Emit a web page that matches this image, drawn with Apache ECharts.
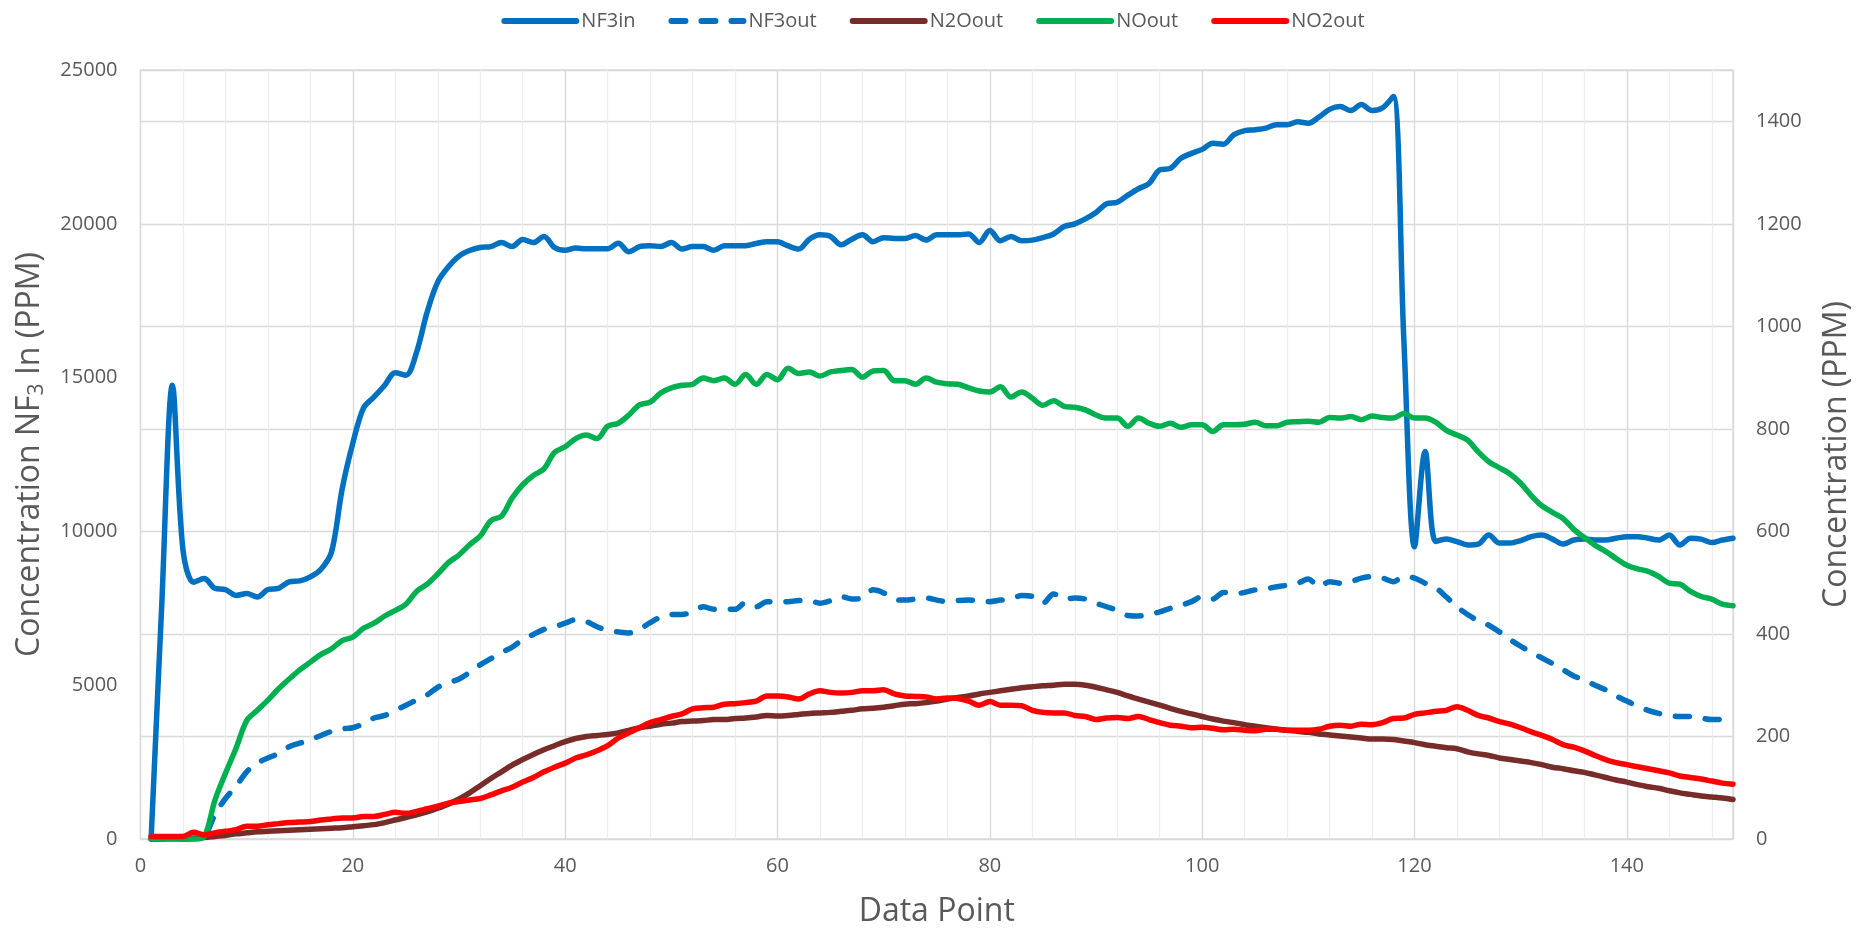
<!DOCTYPE html>
<html>
<head>
<meta charset="utf-8">
<script src="https://cdn.jsdelivr.net/npm/echarts@6/dist/echarts.min.js"></script>
<style>
  html, body { margin: 0; padding: 0; background: #ffffff; }
  #chart { width: 1866px; height: 936px; }
</style>
</head>
<body>
<div id="chart"></div>
<script>
// Data point index 1..150
const dataPoints = [];
for (let i = 1; i <= 150; i++) dataPoints.push(i);

// NF3 inlet concentration (PPM, left axis)
const nf3In = [
  0, 7600, 14750, 9400, 8350, 8470, 8150, 8110, 7920, 7980,
  7870, 8110, 8150, 8360, 8390, 8520, 8770, 9340, 11390, 12870,
  14010, 14370, 14750, 15160, 15080, 15820, 17130, 18110, 18600, 18950,
  19130, 19230, 19260, 19390, 19260, 19490, 19390, 19590, 19230, 19140,
  19210, 19190, 19190, 19190, 19370, 19090, 19260, 19290, 19260, 19390,
  19180, 19260, 19260, 19140, 19290, 19290, 19290, 19360, 19420, 19420,
  19280, 19180, 19500, 19640, 19590, 19320, 19500, 19640, 19420, 19550,
  19520, 19520, 19620, 19470, 19640, 19640, 19640, 19670, 19390, 19780,
  19450, 19590, 19450, 19470, 19550, 19670, 19910, 20000, 20160, 20370,
  20650, 20700, 20930, 21140, 21310, 21750, 21800, 22130, 22290, 22420,
  22620, 22590, 22900, 23030, 23060, 23110, 23220, 23220, 23320, 23270,
  23470, 23720, 23810, 23680, 23880, 23680, 23770, 24140, 16200, 9500,
  12600, 9670, 9750, 9670, 9560, 9590, 9880, 9620, 9620, 9700,
  9830, 9880, 9750, 9590, 9720, 9750, 9720, 9720, 9780, 9830,
  9830, 9780, 9720, 9880, 9560, 9780, 9750, 9640, 9720, 9780
];

// NF3 outlet concentration (PPM, right axis)
const nf3Out = [
  0, 0, 0, 0, 0, 5, 47, 79, 103, 131,
  148, 158, 167, 180, 187, 194, 202, 210, 215, 217,
  225, 236, 241, 251, 261, 271, 281, 296, 305, 312,
  325, 340, 352, 364, 374, 389, 399, 409, 414, 421,
  428, 424, 414, 407, 404, 402, 409, 422, 433, 438,
  438, 443, 453, 448, 448, 448, 461, 453, 463, 463,
  463, 465, 465, 460, 465, 473, 468, 470, 486, 480,
  468, 466, 468, 470, 466, 463, 465, 466, 465, 463,
  466, 468, 475, 473, 460, 478, 468, 470, 468, 460,
  453, 446, 436, 435, 438, 443, 450, 456, 463, 473,
  468, 481, 478, 481, 486, 488, 492, 495, 499, 507,
  492, 502, 499, 502, 509, 512, 509, 502, 512, 509,
  499, 490, 472, 453, 438, 426, 417, 404, 389, 376,
  364, 353, 342, 330, 318, 310, 300, 291, 279, 269,
  259, 251, 245, 241, 239, 239, 236, 233, 233, 231
];

// N2O outlet concentration (PPM, right axis)
const n2oOut = [
  0, 0, 0, 0, 2, 3, 5, 7, 10, 12,
  14, 15, 16, 17, 18, 19, 20, 21, 22, 24,
  26, 28, 32, 37, 42, 47, 53, 60, 68, 78,
  90, 104, 118, 131, 144, 155, 165, 174, 182, 190,
  196, 200, 202, 204, 207, 212, 217, 220, 224, 226,
  229, 230, 231, 233, 233, 235, 236, 238, 241, 240,
  241, 243, 245, 246, 247, 249, 251, 254, 255, 257,
  260, 263, 264, 266, 269, 273, 276, 279, 283, 286,
  289, 292, 295, 297, 299, 300, 302, 302, 300, 296,
  291, 286, 279, 273, 267, 261, 255, 249, 244, 239,
  234, 230, 227, 223, 220, 217, 214, 212, 210, 208,
  205, 203, 201, 199, 197, 195, 195, 194, 191, 188,
  184, 181, 178, 176, 170, 166, 163, 158, 155, 152,
  149, 145, 140, 137, 133, 130, 125, 120, 115, 111,
  106, 102, 99, 94, 90, 87, 84, 82, 80, 77
];

// NO outlet concentration (PPM, right axis)
const noOut = [
  0, 0, 0, 0, 0, 5, 75, 128, 177, 231,
  251, 271, 293, 312, 330, 345, 360, 371, 387, 394,
  411, 421, 435, 446, 458, 483, 497, 517, 539, 554,
  574, 591, 621, 630, 665, 691, 709, 722, 754, 765,
  781, 788, 781, 805, 811, 827, 847, 852, 870, 880,
  885, 887, 899, 894, 899, 887, 906, 887, 906, 896,
  918, 908, 911, 903, 911, 914, 916, 901, 913, 914,
  894, 894, 887, 899, 891, 888, 887, 880, 874, 872,
  882, 862, 872, 860, 846, 855, 844, 842, 837, 827,
  821, 821, 805, 821, 811, 805, 811, 803, 808, 808,
  795, 808, 808, 809, 813, 806, 806, 813, 814, 815,
  813, 822, 821, 824, 818, 825, 822, 821, 830, 821,
  821, 813, 797, 788, 778, 755, 736, 724, 712, 694,
  670, 650, 637, 625, 604, 588, 573, 561, 547, 534,
  527, 522, 512, 499, 497, 483, 473, 468, 458, 455
];

// NO2 outlet concentration (PPM, right axis)
const no2Out = [
  5, 5, 5, 5, 13, 8, 12, 15, 18, 25,
  25, 28, 30, 32, 33, 34, 37, 39, 41, 41,
  44, 44, 48, 52, 50, 54, 59, 64, 70, 73,
  76, 79, 86, 94, 101, 111, 120, 131, 140, 148,
  158, 164, 172, 182, 197, 207, 217, 227, 233, 239,
  244, 254, 256, 257, 263, 264, 266, 269, 279, 279,
  277, 273, 283, 289, 286, 285, 286, 289, 289, 291,
  283, 279, 278, 277, 273, 275, 274, 269, 261, 268,
  261, 261, 260, 251, 247, 246, 246, 241, 239, 233,
  236, 237, 235, 239, 233, 227, 222, 220, 217, 218,
  216, 213, 214, 212, 211, 214, 214, 212, 212, 212,
  214, 220, 222, 220, 224, 223, 227, 235, 236, 243,
  246, 249, 251, 258, 251, 241, 236, 229, 224, 217,
  209, 202, 194, 184, 179, 172, 163, 155, 149, 145,
  141, 137, 133, 129, 123, 120, 117, 113, 109, 107
];

const FONT = '"Open Sans", "Liberation Sans", sans-serif';
const TEXT = '#595959';
const GRID_MAJOR = '#D9D9D9';
const GRID_MINOR = '#EDEDED';

function pairs(values) {
  return values.map((v, i) => [dataPoints[i], v]);
}

function lineSeries(name, values, color, yAxisIndex, dashed) {
  return {
    name: name,
    type: 'line',
    xAxisIndex: 0,
    yAxisIndex: yAxisIndex,
    data: pairs(values),
    smooth: 0.33,
    symbol: 'circle',
    showSymbol: false,
    silent: true,
    lineStyle: {
      color: color,
      width: 5.5,
      type: dashed ? [14, 16] : 'solid',
      cap: 'round',
      join: 'round'
    },
    itemStyle: { color: color },
    emphasis: { disabled: true }
  };
}

const chart = echarts.init(document.getElementById('chart'), null, { renderer: 'canvas' });

chart.setOption({
  animation: false,
  backgroundColor: '#ffffff',
  textStyle: { fontFamily: FONT },
  legend: {
    top: 6,
    left: 'center',
    itemWidth: 72,
    itemHeight: 24,
    itemGap: 33,
    itemStyle: { opacity: 0 },
    lineStyle: { width: 6, cap: 'round' },
    textStyle: { fontSize: 20, color: TEXT, fontFamily: FONT },
    data: ['NF3in', 'NF3out', 'N2Oout', 'NOout', 'NO2out']
  },
  grid: {
    left: 140.5,
    right: 133,
    top: 70,
    bottom: 97,
    show: true,
    borderColor: GRID_MAJOR,
    borderWidth: 1.3
  },
  xAxis: [
    {
      type: 'value',
      min: 0,
      max: 150,
      interval: 20,
      z: 2,
      axisLine: { show: false },
      axisTick: { show: false },
      axisLabel: {
        showMaxLabel: false,
        color: TEXT,
        fontSize: 20,
        fontFamily: FONT,
        margin: 17,
        formatter: v => String(v)
      },
      splitLine: { show: true, lineStyle: { color: GRID_MAJOR, width: 1.3 } },
      name: 'Data Point',
      nameLocation: 'middle',
      nameGap: 57,
      nameTextStyle: { fontSize: 32, color: TEXT, fontFamily: FONT }
    },
    {
      type: 'value',
      min: 0,
      max: 150,
      interval: 4,
      z: 1,
      position: 'bottom',
      axisLine: { show: false },
      axisTick: { show: false },
      axisLabel: { show: false },
      splitLine: { show: true, lineStyle: { color: GRID_MINOR, width: 1.3 } }
    }
  ],
  yAxis: [
    {
      type: 'value',
      position: 'left',
      min: 0,
      max: 25000,
      interval: 5000,
      axisLine: { show: false },
      axisTick: { show: false },
      splitLine: { show: false },
      axisLabel: {
        color: TEXT,
        fontSize: 20,
        fontFamily: FONT,
        margin: 23,
        formatter: v => String(v)
      },
      name: 'Concentration NF{sub|3} In (PPM)',
      nameLocation: 'middle',
      nameRotate: 90,
      nameGap: 93,
      nameTextStyle: {
        fontSize: 32,
        color: TEXT,
        fontFamily: FONT,
        rich: {
          sub: { fontSize: 21, color: TEXT, fontFamily: FONT, padding: [14, 0, 0, 0] }
        }
      }
    },
    {
      type: 'value',
      position: 'right',
      min: 0,
      max: 1500,
      interval: 200,
      axisLine: { show: false },
      axisTick: { show: false },
      splitLine: { show: true, lineStyle: { color: GRID_MAJOR, width: 1.3 } },
      axisLabel: {
        showMaxLabel: false,
        color: TEXT,
        fontSize: 20,
        fontFamily: FONT,
        margin: 23,
        formatter: v => String(v)
      },
      name: 'Concentration (PPM)',
      nameLocation: 'middle',
      nameRotate: 90,
      nameGap: 88,
      nameTextStyle: { fontSize: 32, color: TEXT, fontFamily: FONT }
    }
  ],
  series: [
    lineSeries('NF3in', nf3In, '#0070C0', 0, false),
    lineSeries('NF3out', nf3Out, '#0070C0', 1, true),
    lineSeries('N2Oout', n2oOut, '#772C2A', 1, false),
    lineSeries('NOout', noOut, '#00B050', 1, false),
    lineSeries('NO2out', no2Out, '#FF0000', 1, false)
  ]
});
</script>
</body>
</html>
